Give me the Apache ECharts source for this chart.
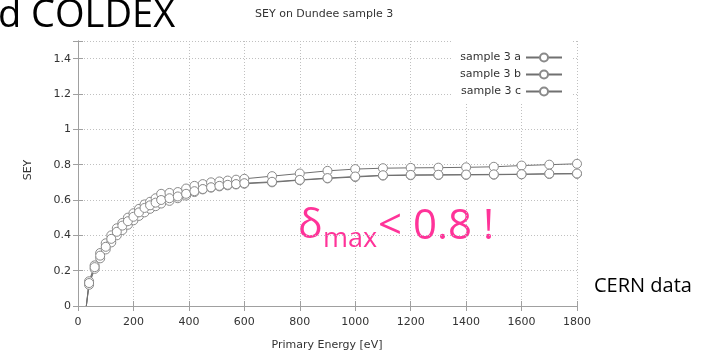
<!DOCTYPE html>
<html>
<head>
<meta charset="utf-8">
<script src="https://cdn.jsdelivr.net/npm/echarts@6/dist/echarts.min.js"></script>
<style>
  html, body { margin: 0; padding: 0; background: #fff; }
  #chart { width: 704px; height: 359px; }
</style>
</head>
<body>
<div id="chart"></div>
<script>
// Primary energy of the incident electrons [eV]
const energy = [30, 40, 60, 80, 100, 120, 140, 160, 180, 200, 220, 240, 260, 280,
  300, 330, 360, 390, 420, 450, 480, 510, 540, 570, 600,
  700, 800, 900, 1000, 1100, 1200, 1300, 1400, 1500, 1600, 1700, 1800];

// Secondary electron yield for the three spots measured on sample 3
const seyA = [0, 0.14, 0.23, 0.30, 0.355, 0.40, 0.44, 0.47, 0.50, 0.525, 0.55, 0.575, 0.59, 0.61,
  0.635, 0.64, 0.645, 0.665, 0.68, 0.69, 0.70, 0.705, 0.71, 0.715, 0.72,
  0.735, 0.75, 0.765, 0.775, 0.78, 0.782, 0.783, 0.785, 0.788, 0.795, 0.80, 0.805];
const seyB = [0, 0.12, 0.21, 0.27, 0.32, 0.36, 0.40, 0.43, 0.46, 0.485, 0.51, 0.53, 0.55, 0.565,
  0.58, 0.595, 0.61, 0.625, 0.645, 0.66, 0.67, 0.677, 0.683, 0.688, 0.692,
  0.70, 0.712, 0.722, 0.73, 0.738, 0.74, 0.741, 0.742, 0.743, 0.745, 0.747, 0.748];
const seyC = [0, 0.13, 0.22, 0.285, 0.335, 0.38, 0.42, 0.455, 0.48, 0.505, 0.53, 0.555, 0.57, 0.585,
  0.60, 0.61, 0.62, 0.635, 0.65, 0.662, 0.672, 0.68, 0.686, 0.69, 0.695,
  0.703, 0.714, 0.724, 0.733, 0.74, 0.742, 0.743, 0.744, 0.745, 0.746, 0.749, 0.75];

const seriesNames = ['sample 3 a', 'sample 3 b', 'sample 3 c'];
const xTicks = { min: 0, max: 1800, step: 200 };
const yTicks = { min: 0, max: 1.5, step: 0.2 };

const FONT = 'DejaVu Sans';
const BORDER = '#a0a0a0';

function toPoints(values) {
  return energy.map((e, i) => {
    const p = { value: [e, values[i]] };
    if (values[i] === 0) p.symbol = 'none';
    return p;
  });
}

function makeSeries(name, values) {
  return {
    name: name,
    type: 'line',
    data: toPoints(values),
    symbol: 'circle',
    symbolSize: 9,
    showAllSymbol: true,
    lineStyle: { color: '#707070', width: 1 },
    itemStyle: { color: '#ffffff', borderColor: '#8a8a8a', borderWidth: 1 },
    emphasis: { disabled: true },
    animation: false
  };
}

const axisLineStyle = { show: true, lineStyle: { color: BORDER, width: 1 } };
const tickStyle = { show: true, inside: true, length: 5, lineStyle: { color: BORDER } };
const gridStyle = { show: true, lineStyle: { color: '#c0c0c0', width: 1, type: [1, 2] } };
const labelStyle = { color: '#333', fontSize: 11, fontFamily: FONT };

const chart = echarts.init(document.getElementById('chart'), null, { renderer: 'canvas' });

chart.setOption({
  animation: false,
  backgroundColor: '#fff',
  grid: { left: 78, right: 127, top: 41, bottom: 53, containLabel: false },
  xAxis: [
    {
      type: 'value', min: xTicks.min, max: xTicks.max, interval: xTicks.step,
      axisLine: axisLineStyle, axisTick: tickStyle, splitLine: gridStyle,
      axisLabel: Object.assign({ margin: 11, formatter: v => String(v) }, labelStyle)
    },
    {
      type: 'value', position: 'top', min: xTicks.min, max: xTicks.max, interval: xTicks.step,
      axisLine: axisLineStyle, axisTick: tickStyle, splitLine: { show: false },
      axisLabel: { show: false }, z: 10
    }
  ],
  yAxis: [
    {
      type: 'value', min: yTicks.min, max: yTicks.max, interval: yTicks.step,
      axisLine: axisLineStyle, axisTick: tickStyle, splitLine: gridStyle,
      axisLabel: Object.assign({
        margin: 7,
        formatter: v => (v > 1.45 ? '' : String(Math.round(v * 10) / 10))
      }, labelStyle)
    },
    {
      type: 'value', position: 'right', min: yTicks.min, max: yTicks.max, interval: yTicks.step,
      axisLine: axisLineStyle, axisTick: tickStyle, splitLine: { show: false },
      axisLabel: { show: false }, z: 10
    }
  ],
  legend: {
    data: seriesNames,
    orient: 'vertical',
    right: 132,
    top: 41,
    align: 'right',
    itemWidth: 36,
    itemHeight: 10,
    itemGap: 6,
    padding: [11, 9, 5, 9],
    backgroundColor: '#fff',
    textStyle: { color: '#333', fontSize: 11, fontFamily: FONT },
    selectedMode: false
  },
  series: [
    makeSeries(seriesNames[0], seyA),
    makeSeries(seriesNames[1], seyB),
    makeSeries(seriesNames[2], seyC)
  ],
  graphic: [
    { type: 'text', left: 255, top: 9,
      style: { text: 'SEY on Dundee sample 3', fill: '#333', font: '11px "DejaVu Sans"' } },
    { type: 'text', x: 28, y: 170, rotation: Math.PI / 2, originX: 0, originY: 0,
      style: { text: 'SEY', fill: '#333', font: '11px "DejaVu Sans"', align: 'center', verticalAlign: 'middle' } },
    { type: 'text', x: 327, y: 345,
      style: { text: 'Primary Energy [eV]', fill: '#333', font: '11px "DejaVu Sans"', align: 'center', verticalAlign: 'middle' } },
    { type: 'text', x: -2, y: -3,
      style: { text: 'd COLDEX', fill: '#000', font: '38px "Open Sans"', align: 'left', verticalAlign: 'top' } },
    { type: 'text', x: 594, y: 276,
      style: { text: 'CERN data', fill: '#000', font: '20px "Open Sans"', align: 'left', verticalAlign: 'top' } },
    { type: 'text', x: 298, y: 206,
      style: { text: 'δ', fill: '#ff3399', font: '41px "Open Sans"', align: 'left', verticalAlign: 'top' } },
    { type: 'text', x: 323, y: 226,
      style: { text: 'max', fill: '#ff3399', font: '27px "Open Sans"', align: 'left', verticalAlign: 'top' } },
    { type: 'text', x: 378, y: 206,
      style: { text: '< 0.8 !', fill: '#ff3399', font: '42px "Open Sans"', align: 'left', verticalAlign: 'top' } }
  ]
});
</script>
</body>
</html>
